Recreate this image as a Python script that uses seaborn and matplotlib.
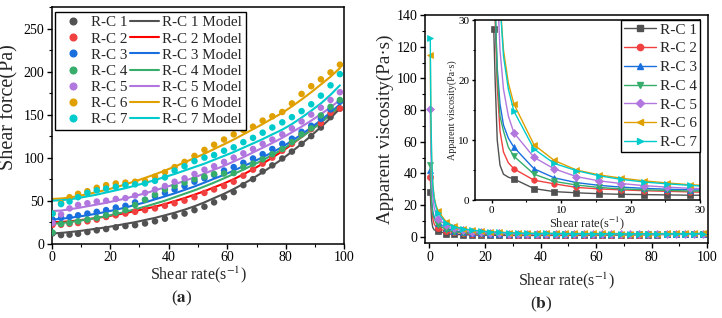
import numpy as np
import pandas as pd
import seaborn as sns
import matplotlib.pyplot as plt
from matplotlib.lines import Line2D
from matplotlib.ticker import MultipleLocator

# Sample names and colours (Origin default palette)
samples = ['R-C 1', 'R-C 2', 'R-C 3', 'R-C 4', 'R-C 5', 'R-C 6', 'R-C 7']
colors = ['#515151', '#F14040', '#1A6FDF', '#37AD6B', '#B177DE', '#E0A000', '#00CBCC']
line_colors = ['#515151', '#FF0000', '#1A6FDF', '#37AD6B', '#B177DE', '#E0A000', '#00CBCC']
vis_markers = ['s', 'o', '^', 'v', 'D', '<', '>']

# Shear rate of the measured points (s^-1)
rate = [0.3, 3.2, 6.1, 9.0, 12.2, 15.4, 18.6, 21.9, 25.2, 28.5, 31.9, 35.3,
        38.7, 42.0, 45.4, 48.8, 52.2, 55.5, 58.9, 62.2, 65.5, 68.8, 72.1,
        75.4, 78.8, 82.1, 85.4, 88.7, 92.0, 95.3, 98.5]

# (a) measured shear force (Pa)
stress_rc1 = [12, 10, 10.5, 11.5, 13.5, 15.5, 17, 19, 20.5, 21.5, 23.5, 26, 29, 32, 35, 39,
              43, 48, 54, 60, 68, 75, 84, 91, 99, 107, 116, 125, 135, 147, 157]
stress_rc2 = [22, 22, 23, 24, 26, 28, 31, 33, 35, 37, 39, 41, 44, 47, 50, 54,
              59, 63, 67, 72, 79, 86, 93, 100, 108, 116, 127, 133, 140, 152, 157]
stress_rc3 = [28, 30, 31, 33, 35, 37, 39, 42, 44, 48, 51, 55, 59, 63, 67, 72,
              76, 80, 85, 89, 94, 99, 104, 110, 116, 122, 130, 137, 145, 156, 165]
stress_rc4 = [13, 23, 24, 26, 28, 30, 33, 36, 39, 45, 51, 57, 63, 67, 71, 75,
              78, 81, 81.5, 82, 89, 93, 98, 104, 110, 118, 127, 134, 149, 159, 167]
stress_rc5 = [24, 34, 41, 45, 47, 49, 50, 52, 53, 56, 59, 63, 67, 72, 76, 81,
              86, 90, 95, 100, 105, 110, 116, 121, 127, 134, 142, 150, 158, 167, 176]
stress_rc6 = [35, 47, 54, 58, 61, 65, 68, 70, 71, 72, 73, 78, 83, 89, 95, 102,
              109, 115, 121, 127, 132, 136, 143, 148, 153, 163, 174, 183, 191, 199, 208]
stress_rc7 = [35, 46, 49, 54, 59, 62, 64, 66, 68, 69, 70, 73, 77, 85, 90, 96,
              100, 103, 108, 112, 118, 123, 129, 135, 141, 147, 154, 162, 172, 184, 197]

# (a) model curves (Pa)
model_rc1 = [12, 12.5, 13.5, 14.5, 16, 17.5, 19, 21, 23, 25, 27.5, 30, 33, 36, 39.5, 43.5,
             48, 53, 58, 63.5, 69.5, 76, 83, 90.5, 98.5, 107, 116, 125.5, 135.5, 146, 157]
model_rc2 = [25, 25.3, 26, 27, 28.5, 30, 31.5, 33.5, 35.5, 38, 40.5, 43, 46, 49.5, 53, 57,
             61, 65.5, 70, 75, 80.5, 86.5, 93, 100, 107.5, 115.5, 124, 132.5, 141, 150, 159]
model_rc3 = [28, 29, 30, 31.5, 33, 35, 37, 39.5, 42, 45, 48, 51.5, 55, 58.5, 62.5, 66.5,
             71, 75.5, 80, 85, 90, 95, 100.5, 106, 112.5, 119.5, 127, 135, 143.5, 152.5, 162]
model_rc4 = [23, 24, 25, 26.5, 28, 30, 32, 34.5, 37, 40, 43, 46.5, 50, 54, 58, 62,
             66.5, 71, 76, 81, 86, 91.5, 97, 103, 109.5, 116.5, 124, 132, 140.5, 150, 160]
model_rc5 = [38, 38.5, 40, 41.5, 43.5, 45.5, 47.5, 50, 52.5, 55.5, 58.5, 62, 65.5, 69, 73, 77,
             81.5, 86, 90.5, 95.5, 100.5, 106, 111.5, 117, 123, 129.5, 136, 143, 150.5, 158.5, 167]
model_rc6 = [52, 52.5, 53.5, 55.5, 57.5, 60, 62.5, 65.5, 69, 72.5, 76.5, 80.5, 85, 89.5, 94.5, 99.5,
             104.5, 110, 115.5, 121, 127, 133, 139, 145.5, 152, 159.5, 167.5, 176, 185, 194, 204]
model_rc7 = [50, 50.5, 51.5, 53, 55, 57, 59.5, 62, 64.5, 67.5, 70.5, 74, 77.5, 81, 85, 89,
             93, 97.5, 102, 106.5, 111.5, 116.5, 121.5, 127, 132.5, 139, 146.5, 154.5, 163, 173, 184]

# (b) apparent viscosity (Pa·s) at the measured points
visc_rc1 = [28.5, 3.5, 1.9, 1.4, 1.2, 1.05, 0.95, 0.9, 0.85, 0.8, 0.78, 0.76, 0.76, 0.77, 0.78, 0.8,
            0.83, 0.87, 0.92, 0.97, 1.03, 1.1, 1.17, 1.22, 1.27, 1.32, 1.37, 1.42, 1.48, 1.54, 1.6]
visc_rc2 = [37.5, 5.2, 3.3, 2.7, 2.1, 1.85, 1.7, 1.55, 1.45, 1.35, 1.25, 1.2, 1.15, 1.13, 1.12, 1.12,
            1.13, 1.15, 1.16, 1.18, 1.22, 1.26, 1.3, 1.34, 1.38, 1.42, 1.48, 1.5, 1.53, 1.58, 1.6]
visc_rc3 = [42, 8.8, 5.2, 3.7, 2.9, 2.45, 2.15, 1.95, 1.8, 1.7, 1.62, 1.56, 1.52, 1.5, 1.48, 1.48,
            1.47, 1.46, 1.45, 1.45, 1.45, 1.45, 1.46, 1.47, 1.48, 1.5, 1.52, 1.55, 1.58, 1.62, 1.67]
visc_rc4 = [45, 7.3, 4.3, 3.1, 2.5, 2.1, 1.85, 1.7, 1.6, 1.5, 1.47, 1.52, 1.6, 1.55, 1.53, 1.5,
            1.45, 1.4, 1.36, 1.33, 1.32, 1.32, 1.34, 1.38, 1.4, 1.44, 1.49, 1.53, 1.6, 1.65, 1.7]
visc_rc5 = [80.5, 11.2, 7.1, 5.2, 3.9, 3.2, 2.75, 2.4, 2.15, 1.95, 1.85, 1.78, 1.73, 1.7, 1.68, 1.66,
            1.65, 1.63, 1.62, 1.61, 1.6, 1.6, 1.6, 1.61, 1.62, 1.63, 1.65, 1.68, 1.72, 1.76, 1.79]
visc_rc6 = [114.7, 16, 9.2, 6.6, 5.0, 4.2, 3.65, 3.2, 2.85, 2.55, 2.35, 2.2, 2.15, 2.12, 2.1, 2.08,
            2.07, 2.06, 2.05, 2.04, 2.02, 1.99, 1.98, 1.97, 1.96, 1.98, 2.03, 2.06, 2.08, 2.09, 2.11]
visc_rc7 = [125.5, 14.8, 8.5, 6.1, 4.9, 4.05, 3.45, 3.0, 2.7, 2.45, 2.2, 2.05, 2.0, 2.02, 1.98, 1.96,
            1.92, 1.87, 1.84, 1.81, 1.8, 1.79, 1.79, 1.8, 1.8, 1.8, 1.81, 1.83, 1.87, 1.94, 2.0]

# (b) extra line points in the steep part (no markers there)
rate_early = [0.5, 0.8, 1.2, 1.7, 2.4]
early_rc1 = [20, 10, 5.8, 4.3, 3.8]
early_rc2 = [30, 19, 11.5, 8, 6.2]
early_rc3 = [32, 22, 16, 12.5, 10.3]
early_rc4 = [33, 21, 14, 11.5, 8.8]
early_rc5 = [55, 36, 25, 18.5, 14]
early_rc6 = [75, 48, 33, 25, 19.5]
early_rc7 = [80, 50, 33, 24, 18.5]

stress = [stress_rc1, stress_rc2, stress_rc3, stress_rc4, stress_rc5, stress_rc6, stress_rc7]
models = [model_rc1, model_rc2, model_rc3, model_rc4, model_rc5, model_rc6, model_rc7]
visc = [visc_rc1, visc_rc2, visc_rc3, visc_rc4, visc_rc5, visc_rc6, visc_rc7]
early = [early_rc1, early_rc2, early_rc3, early_rc4, early_rc5, early_rc6, early_rc7]

pts = pd.concat([pd.DataFrame({'rate': rate, 'stress': s, 'sample': n})
                 for s, n in zip(stress, samples)])
mod = pd.concat([pd.DataFrame({'rate': rate, 'stress': m, 'sample': n})
                 for m, n in zip(models, samples)])

sns.set_theme(style='ticks')
plt.rcParams['font.family'] = ['Liberation Serif', 'DejaVu Serif']
plt.rcParams['mathtext.fontset'] = 'stix'
plt.rcParams['axes.linewidth'] = 1.1
plt.rcParams['xtick.major.width'] = 1.0
plt.rcParams['ytick.major.width'] = 1.0
plt.rcParams['xtick.minor.width'] = 0.8
plt.rcParams['ytick.minor.width'] = 0.8
plt.rcParams['xtick.major.size'] = 3.5
plt.rcParams['ytick.major.size'] = 3.5
plt.rcParams['xtick.minor.size'] = 2
plt.rcParams['ytick.minor.size'] = 2
plt.rcParams['axes.edgecolor'] = 'black'
plt.rcParams['xtick.color'] = 'black'
plt.rcParams['ytick.color'] = 'black'

W, H = 722, 318
fig = plt.figure(figsize=(W / 100, H / 100), dpi=100)
ax1 = fig.add_axes([51.7 / W, 1 - 243.7 / H, 292.6 / W, 236.7 / H])
ax2 = fig.add_axes([425 / W, 1 - 243 / H, 283 / W, 228 / H])
ax3 = fig.add_axes([475 / W, 1 - 200 / H, 225 / W, 180 / H])

# ---- (a) shear force ----
sns.lineplot(data=mod, x='rate', y='stress', hue='sample', palette=line_colors,
             estimator=None, lw=1.5, legend=False, ax=ax1)
sns.scatterplot(data=pts, x='rate', y='stress', hue='sample', palette=colors,
                s=22, edgecolor='none', legend=False, ax=ax1, zorder=3)
ax1.set_xlim(0, 100)
ax1.set_ylim(0, 275)
ax1.xaxis.set_major_locator(MultipleLocator(20))
ax1.xaxis.set_minor_locator(MultipleLocator(10))
ax1.yaxis.set_major_locator(MultipleLocator(50))
ax1.yaxis.set_minor_locator(MultipleLocator(25))
ax1.tick_params(labelsize=10, pad=2)
ax1.set_xlabel('Shear rate(s$^{-1}$)', fontsize=11.5, labelpad=0)
ax1.set_ylabel('Shear force(Pa)', fontsize=14.5, labelpad=2)
ax1.yaxis.set_label_coords(-0.112, 0.575)

pt_handles = [Line2D([], [], marker='o', ls='none', color=c, ms=4.8) for c in colors]
ln_handles = [Line2D([], [], color=c, lw=1.5) for c in line_colors]
leg = ax1.legend(pt_handles + ln_handles, samples + [s + ' Model' for s in samples],
                 ncol=2, loc='upper left', bbox_to_anchor=(3 / 292.6, 1 - 5 / 236.7),
                 borderaxespad=0, fontsize=10.9, handlelength=1.9, handletextpad=0.25,
                 columnspacing=0.15, labelspacing=0.17, borderpad=0.25,
                 fancybox=False, edgecolor='black', framealpha=1)
leg.get_frame().set_linewidth(1.0)

# ---- (b) apparent viscosity + inset ----
for ax in (ax2, ax3):
    for v, e, c, m in zip(visc, early, colors, vis_markers):
        xs = [rate[0]] + rate_early + rate[1:]
        ys = [v[0]] + e + v[1:]
        sns.lineplot(x=xs, y=ys, color=c, marker=m, markersize=4.5 if ax is ax2 else 4,
                     markeredgecolor=c, markeredgewidth=0.5, lw=1,
                     markevery=[0] + list(range(len(rate_early) + 1, len(xs))),
                     estimator=None, sort=False, ax=ax)

ax2.set_xlim(-1.6, 100.3)
ax2.set_ylim(-4, 140)
ax2.xaxis.set_major_locator(MultipleLocator(20))
ax2.xaxis.set_minor_locator(MultipleLocator(10))
ax2.yaxis.set_major_locator(MultipleLocator(20))
ax2.yaxis.set_minor_locator(MultipleLocator(10))
ax2.tick_params(labelsize=10, pad=2)
ax2.set_xlabel('Shear rate(s$^{-1}$)', fontsize=11.5, labelpad=5)
ax2.set_ylabel('Apparent viscosity(Pa·s)', fontsize=13.8, labelpad=2)

ax3.set_xlim(-2.4, 30)
ax3.set_ylim(0, 30)
ax3.xaxis.set_major_locator(MultipleLocator(10))
ax3.xaxis.set_minor_locator(MultipleLocator(5))
ax3.yaxis.set_major_locator(MultipleLocator(10))
ax3.yaxis.set_minor_locator(MultipleLocator(5))
ax3.tick_params(labelsize=8, pad=1.5, length=2.5)
ax3.tick_params(which='minor', length=1.5)
ax3.set_xlabel('Shear rate(s$^{-1}$)', fontsize=9, labelpad=0)
ax3.set_ylabel('Apparent viscosity(Pa·s)', fontsize=7.2, labelpad=1)

vis_handles = [Line2D([], [], color=c, marker=m, ms=4.5, lw=1, mec=c)
               for c, m in zip(colors, vis_markers)]
leg3 = ax3.legend(vis_handles, samples, loc='upper right', borderaxespad=0,
                  fontsize=11, handlelength=2.1, handletextpad=0.25,
                  labelspacing=0.33, borderpad=0.2,
                  fancybox=False, edgecolor='black', framealpha=1)
leg3.get_frame().set_linewidth(1.0)

fig.text(182 / W, 1 - 298 / H, r'($\mathbf{a}$)', fontsize=12.5, ha='center', va='center')
fig.text(541 / W, 1 - 304 / H, r'($\mathbf{b}$)', fontsize=12.5, ha='center', va='center')

fig.savefig('out.png', dpi=100)
